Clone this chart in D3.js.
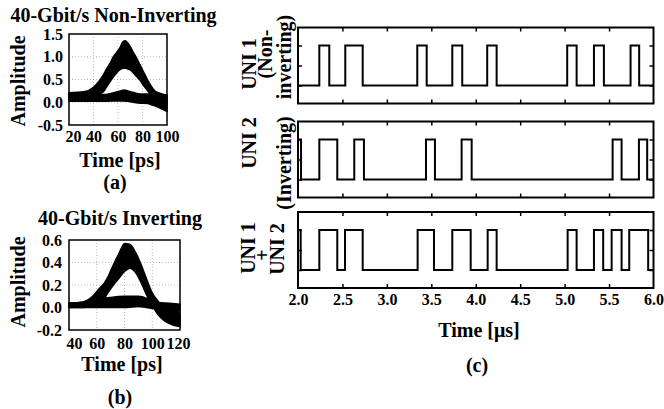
<!DOCTYPE html>
<html>
<head>
    <meta charset="utf-8">
    <script src="https://cdn.jsdelivr.net/npm/d3@7/dist/d3.min.js"></script>
    <title>eye diagrams and UNI traces</title>
    <style>
        body { margin: 0; background: #fff; }
        svg text { font-family: "Liberation Serif", "Times New Roman", serif; font-weight: bold; fill: #000; }
    </style>
</head>
<body>
<svg id="chart" width="664" height="409"></svg>
<script>
// ---- (a) 40-Gbit/s non-inverting eye: "1" band and "0" band (time in ps, amplitude)
var eyeAOneT  = [20, 32, 40, 45, 48, 51, 54, 56, 59, 62, 64, 66, 68, 70, 72, 75, 78, 81, 84, 87, 90, 94, 100];
var eyeAOneHi = [0.21, 0.23, 0.33, 0.48, 0.60, 0.75, 0.88, 0.99, 1.10, 1.22, 1.33, 1.35, 1.30, 1.22, 1.12, 0.98, 0.82, 0.66, 0.50, 0.36, 0.25, 0.20, 0.16];
var eyeAOneLo = [0.08, 0.10, 0.13, 0.17, 0.23, 0.35, 0.47, 0.55, 0.65, 0.72, 0.75, 0.75, 0.73, 0.71, 0.66, 0.57, 0.48, 0.36, 0.26, 0.16, 0.10, 0.05, -0.02];
var eyeAZeroT  = [20, 40, 50, 58, 62, 65, 68, 72, 78, 84, 88, 92, 96, 100];
var eyeAZeroHi = [0.20, 0.18, 0.17, 0.22, 0.25, 0.27, 0.25, 0.22, 0.18, 0.18, 0.20, 0.18, 0.15, 0.12];
var eyeAZeroLo = [0.02, 0.02, 0.02, 0.03, 0.03, 0.03, 0.02, 0.00, -0.02, -0.03, -0.06, -0.10, -0.15, -0.20];
var eyeAXTicks = [20, 40, 60, 80, 100];
var eyeAYTicks = [-0.5, 0.0, 0.5, 1.0, 1.5];

// ---- (b) 40-Gbit/s inverting eye
var eyeBOneT  = [40, 50, 57, 62, 65, 68, 72, 76, 80, 84, 88, 92, 96, 100, 104, 108, 112, 116, 120];
var eyeBOneHi = [0.04, 0.05, 0.10, 0.17, 0.21, 0.27, 0.38, 0.48, 0.57, 0.56, 0.49, 0.38, 0.25, 0.13, 0.06, 0.01, 0.00, -0.02, -0.05];
var eyeBOneLo = [0.00, 0.00, 0.02, 0.04, 0.07, 0.13, 0.20, 0.26, 0.32, 0.35, 0.31, 0.22, 0.11, 0.02, -0.06, -0.11, -0.14, -0.16, -0.17];
var eyeBZeroT  = [40, 55, 62, 65, 70, 80, 90, 96, 100, 110, 120];
var eyeBZeroHi = [0.04, 0.05, 0.07, 0.08, 0.09, 0.10, 0.10, 0.08, 0.05, 0.04, 0.03];
var eyeBZeroLo = [0.00, 0.00, 0.00, 0.00, 0.00, 0.00, 0.01, 0.00, -0.01, -0.02, -0.03];
var eyeBXTicks = [40, 60, 80, 100, 120];
var eyeBYTicks = [-0.2, 0.0, 0.2, 0.4, 0.6];

// ---- (c) UNI outputs: start level and transition times (us)
var uni1Start = 0;
var uni1Edges = [2.24, 2.352, 2.532, 2.728, 3.342, 3.448, 3.736, 3.848, 4.129, 4.235, 5.029, 5.135, 5.330, 5.442, 5.742, 5.839];
var uni2Start = 1;
var uni2Edges = [2.034, 2.24, 2.442, 2.633, 2.742, 3.44, 3.541, 3.841, 3.954, 5.54, 5.641, 5.836, 5.929];
var sumStart = 1;
var sumEdges = [2.03, 2.24, 2.442, 2.529, 2.728, 3.346, 3.53, 3.736, 3.943, 4.134, 4.235, 5.034, 5.135, 5.33, 5.434, 5.529, 5.641, 5.727, 5.94];
var timeTicks = [2.0, 2.5, 3.0, 3.5, 4.0, 4.5, 5.0, 5.5, 6.0];
var levelTicks = [0, 0.5, 1];

var svg = d3.select('#chart');

function label(txt, x, y, size, rot) {
    var t = svg.append('text')
        .attr('text-anchor', 'middle')
        .attr('dy', '0.35em')
        .attr('font-size', size)
        .text(txt);
    if (rot) t.attr('transform', 'translate(' + x + ',' + y + ') rotate(-90)');
    else t.attr('x', x).attr('y', y);
    return t;
}

function zipBand(ts, lo, hi) {
    return ts.map(function(t, i) { return {t: t, lo: lo[i], hi: hi[i]}; });
}

function drawEye(o) {
    var x = d3.scaleLinear().domain(o.xDomain).range(o.xRange);
    var y = d3.scaleLinear().domain(o.yDomain).range(o.yRange);
    var g = svg.append('g');
    var x0 = o.xRange[0], x1 = o.xRange[1], y0 = o.yRange[1], y1 = o.yRange[0];

    g.selectAll('line.gx').data(o.xTicks.slice(1, -1)).join('line')
        .attr('x1', d => x(d)).attr('x2', d => x(d)).attr('y1', y0).attr('y2', y1)
        .attr('stroke', '#aaa').attr('stroke-width', 0.8).attr('stroke-dasharray', '1,2');
    g.selectAll('line.gy').data(o.yTicks.slice(1, -1)).join('line')
        .attr('y1', d => y(d)).attr('y2', d => y(d)).attr('x1', x0).attr('x2', x1)
        .attr('stroke', '#aaa').attr('stroke-width', 0.8).attr('stroke-dasharray', '1,2');

    var area = d3.area().x(d => x(d.t)).y0(d => y(d.lo)).y1(d => y(d.hi)).curve(d3.curveMonotoneX);
    g.selectAll('path.band').data(o.bands).join('path')
        .attr('d', area).attr('fill', '#000').attr('stroke', '#000').attr('stroke-width', 1.5);

    g.append('rect')
        .attr('x', x0).attr('y', y0).attr('width', x1 - x0).attr('height', y1 - y0)
        .attr('fill', 'none').attr('stroke', '#000').attr('stroke-width', 1.5);

    var ax = g.append('g').attr('transform', 'translate(0,' + y1 + ')')
        .call(d3.axisBottom(x).tickValues(o.xTicks).tickSize(0).tickPadding(o.xPad).tickFormat(d3.format('d')));
    var ay = g.append('g').attr('transform', 'translate(' + x0 + ',0)')
        .call(d3.axisLeft(y).tickValues(o.yTicks).tickSize(0).tickPadding(o.yPad).tickFormat(d => d.toFixed(1)));
    [ax, ay].forEach(function(a) {
        a.select('.domain').remove();
        a.selectAll('text').attr('font-size', 16).attr('fill', '#000');
    });
    // end labels sit a little inside the box edges
    ax.selectAll('.tick text').attr('dx', (d, i, n) => i === 0 ? o.endNudge[0] : (i === n.length - 1 ? o.endNudge[1] : 0));
}

drawEye({
    xDomain: [20, 100], xRange: [69, 167],
    yDomain: [-0.5, 1.5], yRange: [125, 34],
    xTicks: eyeAXTicks, yTicks: eyeAYTicks, xPad: 6, yPad: 6, endNudge: [4, 0],
    bands: [zipBand(eyeAOneT, eyeAOneLo, eyeAOneHi), zipBand(eyeAZeroT, eyeAZeroLo, eyeAZeroHi)]
});
drawEye({
    xDomain: [40, 120], xRange: [69, 180],
    yDomain: [-0.2, 0.6], yRange: [330, 240],
    xTicks: eyeBXTicks, yTicks: eyeBYTicks, xPad: 8, yPad: 7, endNudge: [5, -2],
    bands: [zipBand(eyeBOneT, eyeBOneLo, eyeBOneHi), zipBand(eyeBZeroT, eyeBZeroLo, eyeBZeroHi)]
});

label('40-Gbit/s Non-Inverting', 113.5, 15, 20);
label('Amplitude', 17.5, 81, 20, true);
label('Time [ps]', 120, 160, 20);
label('(a)', 115, 181.5, 20);
label('40-Gbit/s Inverting', 120, 218, 20);
label('Amplitude', 17.5, 282, 20, true);
label('Time [ps]', 122, 364, 20);
label('(b)', 120, 397, 20);

// ---- (c)
var tx = d3.scaleLinear().domain([2, 6]).range([298, 653.5]);

function steps(start, edges) {
    var v = start, pts = [{t: 2, v: v}];
    edges.forEach(function(e) { v = 1 - v; pts.push({t: e, v: v}); });
    pts.push({t: 6, v: v});
    return pts;
}

function drawTrace(top, bottom, start, edges, showLabels) {
    var y = d3.scaleLinear().domain([-0.45, 1.45]).range([bottom, top]);
    var g = svg.append('g');
    var line = d3.line().x(d => tx(d.t)).y(d => y(d.v)).curve(d3.curveStepAfter);
    g.append('path').datum(steps(start, edges))
        .attr('d', line).attr('fill', 'none').attr('stroke', '#000').attr('stroke-width', 2);

    var inner = timeTicks.slice(1, -1);
    var axT = g.append('g').attr('transform', 'translate(0,' + top + ')')
        .call(d3.axisTop(tx).tickValues(inner).tickSize(-4).tickFormat(''));
    var axB = g.append('g').attr('transform', 'translate(0,' + bottom + ')')
        .call(d3.axisBottom(tx).tickValues(showLabels ? timeTicks : inner).tickSize(-4).tickPadding(6)
            .tickFormat(showLabels ? d3.format('.1f') : ''));
    var axL = g.append('g').attr('transform', 'translate(' + tx(2) + ',0)')
        .call(d3.axisLeft(y).tickValues(levelTicks).tickSize(-4).tickFormat(''));
    var axR = g.append('g').attr('transform', 'translate(' + tx(6) + ',0)')
        .call(d3.axisRight(y).tickValues(levelTicks).tickSize(-4).tickFormat(''));
    [axT, axB, axL, axR].forEach(function(a) {
        a.select('.domain').remove();
        a.selectAll('line').attr('stroke', '#000').attr('stroke-width', 1.5);
        a.selectAll('text').attr('font-size', 16).attr('fill', '#000');
    });
    if (showLabels) axB.selectAll('.tick').filter(d => d === 2 || d === 6).select('line').remove();

    g.append('rect')
        .attr('x', tx(2)).attr('y', top).attr('width', tx(6) - tx(2)).attr('height', bottom - top)
        .attr('fill', 'none').attr('stroke', '#000').attr('stroke-width', 2);
}

drawTrace(27.5, 103.5, uni1Start, uni1Edges, false);
drawTrace(121.5, 197.5, uni2Start, uni2Edges, false);
drawTrace(212, 288, sumStart, sumEdges, true);

label('UNI 1', 249, 64, 20, true);
label('(Non-', 265, 54, 20, true);
label('inverting)', 284, 57, 20, true);
label('UNI 2', 249, 143, 20, true);
label('(Inverting)', 284, 163, 20, true);
label('UNI 1', 248, 248, 20, true);
label('+', 262, 255, 20, true);
label('UNI 2', 277, 249, 20, true);
label('Time [μs]', 479, 330, 20);
label('(c)', 477, 365, 20);
</script>
</body>
</html>
